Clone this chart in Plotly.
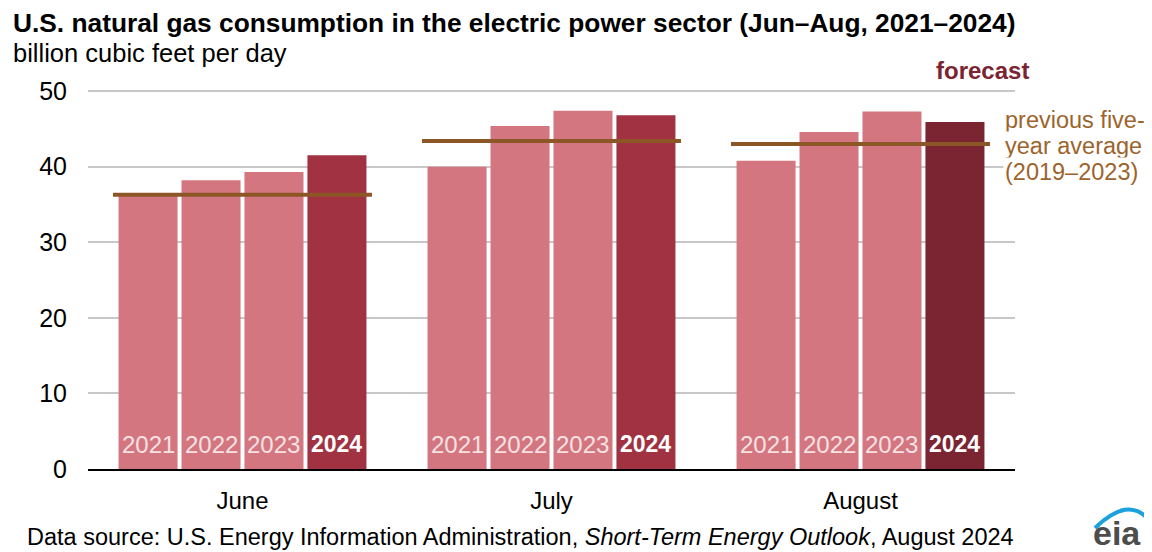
import plotly.graph_objects as go

months = ["June", "July", "August"]
years = ["2021", "2022", "2023", "2024"]
values = {
    "2021": [36.2, 40.0, 40.8],
    "2022": [38.2, 45.4, 44.6],
    "2023": [39.3, 47.4, 47.3],
    "2024": [41.5, 46.8, 45.9],
}
avg_5yr = [36.3, 43.4, 43.0]
y_ticks = [0, 10, 20, 30, 40, 50]

LIGHT = "#d4767f"
DARK = "#a03242"
DARKER = "#7a2531"
BROWN = "#8c5626"
FONT = "Liberation Sans, Arial, sans-serif"

# page body has an 8px margin; figure is sized/placed to compensate
OFF = 8
W, H = 1144, 544
ML, MR, MT, MB = 80, 137, 68, 83
PW = W - ML - MR
PH = H - MT - MB


def px(x):
    return (x - OFF - ML) / PW


def py(y):
    return (H - MB - (y - OFF)) / PH


fig = go.Figure()
colors = {
    "2021": [LIGHT] * 3,
    "2022": [LIGHT] * 3,
    "2023": [LIGHT] * 3,
    "2024": [DARK, DARK, DARKER],
}
for yr in years:
    fig.add_trace(go.Bar(
        x=months, y=values[yr], name=yr,
        marker=dict(color=colors[yr], line=dict(width=0)),
        showlegend=False, hoverinfo="x+y+name",
    ))

bargap = 0.185
slot = (1 - bargap) / len(years)
offsets = [(-1.5 + k) * slot for k in range(len(years))]

shapes = []
for i, a in enumerate(avg_5yr):
    shapes.append(dict(type="line", xref="x", yref="y",
                       x0=i - 0.419, x1=i + 0.419, y0=a, y1=a,
                       line=dict(color=BROWN, width=4), layer="above"))

annotations = []
for i in range(len(months)):
    for k, yr in enumerate(years):
        bold = yr == "2024"
        annotations.append(dict(
            x=i + offsets[k], y=0, xref="x", yref="y",
            text=f"<b>{yr}</b>" if bold else yr, showarrow=False,
            yanchor="middle", yshift=25,
            font=dict(family=FONT, size=24 if not bold else 23,
                      color="#ffffff" if bold else "#f5e2e4"),
        ))

annotations += [
    dict(x=px(12), y=py(23.5), xref="paper", yref="paper", xanchor="left", yanchor="middle",
         text="<b>U.S. natural gas consumption in the electric power sector (Jun–Aug, 2021–2024)</b>",
         showarrow=False, borderpad=0, font=dict(family=FONT, size=26.3, color="#000000")),
    dict(x=px(12), y=py(53), xref="paper", yref="paper", xanchor="left", yanchor="middle",
         text="billion cubic feet per day", borderpad=0,
         showarrow=False, font=dict(family=FONT, size=25.5, color="#000000")),
    dict(x=px(982), y=py(71), xref="paper", yref="paper", xanchor="center", yanchor="middle",
         text="<b>forecast</b>",
         showarrow=False, font=dict(family=FONT, size=24, color="#7b2331")),
    dict(x=px(1003), y=py(120), xref="paper", yref="paper", xanchor="left", yanchor="middle",
         text="previous five-", bgcolor="#ffffff", borderpad=1,
         showarrow=False, font=dict(family=FONT, size=23.5, color="#9c642c")),
    dict(x=px(1003), y=py(146), xref="paper", yref="paper", xanchor="left", yanchor="middle",
         text="year average", bgcolor="#ffffff", borderpad=1,
         showarrow=False, font=dict(family=FONT, size=23.5, color="#9c642c")),
    dict(x=px(1003), y=py(172), xref="paper", yref="paper", xanchor="left", yanchor="middle",
         text="(2019–2023)", bgcolor="#ffffff", borderpad=1,
         showarrow=False, font=dict(family=FONT, size=23.5, color="#9c642c")),
    dict(x=px(26), y=py(537), xref="paper", yref="paper", xanchor="left", yanchor="middle",
         text="Data source: U.S. Energy Information Administration, <i>Short-Term Energy Outlook</i>, August 2024",
         showarrow=False, borderpad=0, font=dict(family=FONT, size=23.5, color="#000000")),
    dict(x=px(1117), y=py(533), xref="paper", yref="paper", xanchor="center", yanchor="middle",
         text="<b>eia</b>", borderpad=0,
         showarrow=False, font=dict(family=FONT, size=34, color="#4d4d4d")),
]

# eia logo arc
x0, y0 = px(1095), py(528)
xc, yc = px(1128), py(496)
x1, y1 = px(1148), py(519)
shapes.append(dict(type="path", xref="paper", yref="paper",
                   path=f"M {x0},{y0} Q {xc},{yc} {x1},{y1}",
                   line=dict(color="#1ba1dc", width=4)))

fig.update_layout(
    width=W, height=H,
    margin=dict(l=ML, r=MR, t=MT, b=MB),
    paper_bgcolor="#ffffff", plot_bgcolor="#ffffff",
    barmode="group", bargap=bargap, bargroupgap=0.0625,
    font=dict(family=FONT, color="#000000"),
    shapes=shapes, annotations=annotations,
    xaxis=dict(showline=True, linecolor="#000000", linewidth=2,
               ticks="", tickfont=dict(size=24, color="#000000"),
               ticklabelstandoff=9, showgrid=False, fixedrange=True),
    yaxis=dict(range=[0, 52], tickvals=y_ticks, ticks="",
               tickfont=dict(size=25, color="#000000"),
               showgrid=True, gridcolor="#c8c8c8", gridwidth=2,
               zeroline=False, showline=False, ticklabelstandoff=20,
               fixedrange=True),
)

fig.write_html("out.html")
